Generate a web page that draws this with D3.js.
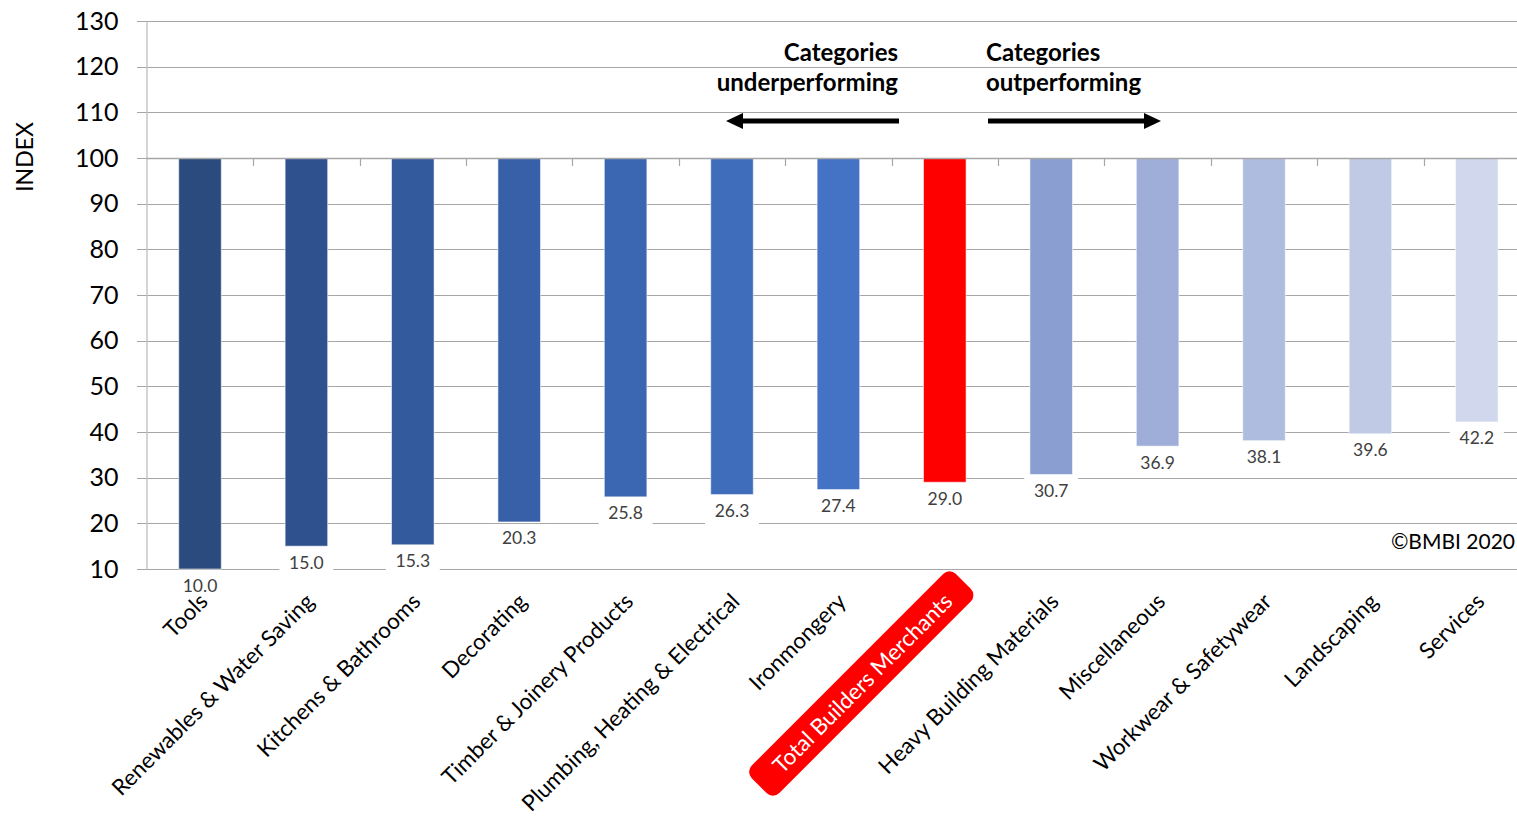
<!DOCTYPE html>
<html>
<head>
<meta charset="utf-8">
<script src="https://cdn.jsdelivr.net/npm/d3@7"></script>
<style>
  html, body { margin: 0; padding: 0; background: #fff; }
  svg { display: block; }
  text { font-family: Lato, "Open Sans", sans-serif; }
</style>
</head>
<body>
<svg id="chart" width="1517" height="819"></svg>
<script>
// Category index, base = 100
const categories = [
  "Tools", "Renewables & Water Saving", "Kitchens & Bathrooms", "Decorating",
  "Timber & Joinery Products", "Plumbing, Heating & Electrical", "Ironmongery",
  "Total Builders Merchants", "Heavy Building Materials", "Miscellaneous",
  "Workwear & Safetywear", "Landscaping", "Services"
];
const indexValues = [10.0, 15.0, 15.3, 20.3, 25.8, 26.3, 27.4, 29.0, 30.7, 36.9, 38.1, 39.6, 42.2];
const barColors = [
  "#2b4a7e", "#2f528f", "#335a9c", "#3760a8", "#3b66b1", "#3f6dbc", "#4472c4",
  "#ff0000", "#8a9ed1", "#9faed8", "#aebddf", "#c0cae5", "#d1d7ec"
];
const yTicks = [10, 20, 30, 40, 50, 60, 70, 80, 90, 100, 110, 120, 130];
const baseline = 100;
const highlight = "Total Builders Merchants";

const svg = d3.select("#chart");

const y = d3.scaleLinear().domain([10, 130]).range([569, 21]);
const x = d3.scaleBand().domain(categories).range([146.8, 1530])
  .paddingInner(0.6).paddingOuter(0.3);
const step = x.step();

// horizontal gridlines
svg.append("g").selectAll("line").data(yTicks).join("line")
  .attr("x1", 137).attr("x2", 1517)
  .attr("y1", d => Math.round(y(d)) + 0.5).attr("y2", d => Math.round(y(d)) + 0.5)
  .attr("stroke", "#a6a6a6").attr("stroke-width", 1.2);

// value axis
const yAxis = svg.append("g").attr("transform", "translate(146.5,0)")
  .call(d3.axisLeft(y).tickValues(yTicks).tickSize(0).tickPadding(28));
yAxis.select(".domain").attr("stroke", "#bfbfbf").attr("stroke-width", 1.3);
yAxis.selectAll("text").attr("font-size", 25).attr("fill", "#000")
  .attr("font-family", "Lato, sans-serif");

// white boxes behind the value labels
svg.append("g").selectAll("rect").data(categories).join("rect")
  .attr("x", d => x(d) + x.bandwidth() / 2 - 27)
  .attr("y", (d, i) => y(indexValues[i]) + 2)
  .attr("width", 54).attr("height", 28)
  .attr("fill", "#fff");

// floating bars between the value and the base of 100
svg.append("g").selectAll("rect").data(categories).join("rect")
  .attr("x", d => x(d))
  .attr("y", y(baseline))
  .attr("width", x.bandwidth())
  .attr("height", (d, i) => y(indexValues[i]) - y(baseline))
  .attr("fill", (d, i) => barColors[i])
  .attr("stroke", "rgba(255,255,255,0.55)").attr("stroke-width", 1);

// value labels
svg.append("g").selectAll("text").data(categories).join("text")
  .attr("x", d => x(d) + x.bandwidth() / 2)
  .attr("y", (d, i) => y(indexValues[i]) + 16)
  .attr("text-anchor", "middle").attr("dominant-baseline", "central")
  .attr("font-size", 17.5).attr("fill", "#404040")
  .text((d, i) => indexValues[i].toFixed(1));

// category axis crossing at 100
svg.append("line")
  .attr("x1", 146).attr("x2", 1517)
  .attr("y1", Math.round(y(baseline)) + 0.5).attr("y2", Math.round(y(baseline)) + 0.5)
  .attr("stroke", "#a6a6a6").attr("stroke-width", 1.4);
svg.append("g").selectAll("line").data(categories.slice(1)).join("line")
  .attr("x1", d => Math.round(x(d) - step * x.paddingInner() / 2) + 0.5)
  .attr("x2", d => Math.round(x(d) - step * x.paddingInner() / 2) + 0.5)
  .attr("y1", y(baseline)).attr("y2", y(baseline) + 8)
  .attr("stroke", "#a6a6a6").attr("stroke-width", 1.2);

// rotated category labels
const catG = svg.append("g").selectAll("g").data(categories).join("g")
  .attr("transform", d => `translate(${x(d) + x.bandwidth() / 2 + 9},${603}) rotate(-45)`);
catG.each(function (d) {
  const g = d3.select(this);
  const t = g.append("text")
    .attr("text-anchor", "end")
    .attr("font-size", 22.4)
    .attr("fill", d === highlight ? "#fff" : "#000")
    .text(d);
  if (d === highlight) {
    const bb = t.node().getBBox();
    g.insert("rect", "text")
      .attr("x", bb.x - 24).attr("y", bb.y - 6)
      .attr("width", bb.width + 46).attr("height", bb.height + 12)
      .attr("rx", 9).attr("fill", "#ff0000");
  }
});

// axis title
svg.append("text")
  .attr("transform", "translate(33,157) rotate(-90)")
  .attr("text-anchor", "middle")
  .attr("font-size", 23).attr("fill", "#000")
  .text("INDEX");

// performance annotations
const note = svg.append("g").attr("font-weight", "bold").attr("font-size", 24).attr("fill", "#000");
note.append("text").attr("x", 898).attr("y", 61).attr("text-anchor", "end").text("Categories");
note.append("text").attr("x", 898).attr("y", 91).attr("text-anchor", "end").text("underperforming");
note.append("text").attr("x", 986).attr("y", 61).text("Categories");
note.append("text").attr("x", 986).attr("y", 91).text("outperforming");

function arrow(x1, x2, yy) {
  const dir = Math.sign(x2 - x1);
  const head = 17;
  svg.append("line")
    .attr("x1", x1).attr("x2", x2 - dir * head).attr("y1", yy).attr("y2", yy)
    .attr("stroke", "#000").attr("stroke-width", 5);
  svg.append("path")
    .attr("d", `M${x2},${yy} L${x2 - dir * head},${yy - 8} L${x2 - dir * head},${yy + 8} Z`)
    .attr("fill", "#000");
}
arrow(899, 726, 121);
arrow(988, 1161, 121);

// copyright
svg.append("text")
  .attr("x", 1515).attr("y", 549)
  .attr("text-anchor", "end")
  .attr("font-size", 21).attr("fill", "#000")
  .text("©BMBI 2020");
</script>
</body>
</html>
